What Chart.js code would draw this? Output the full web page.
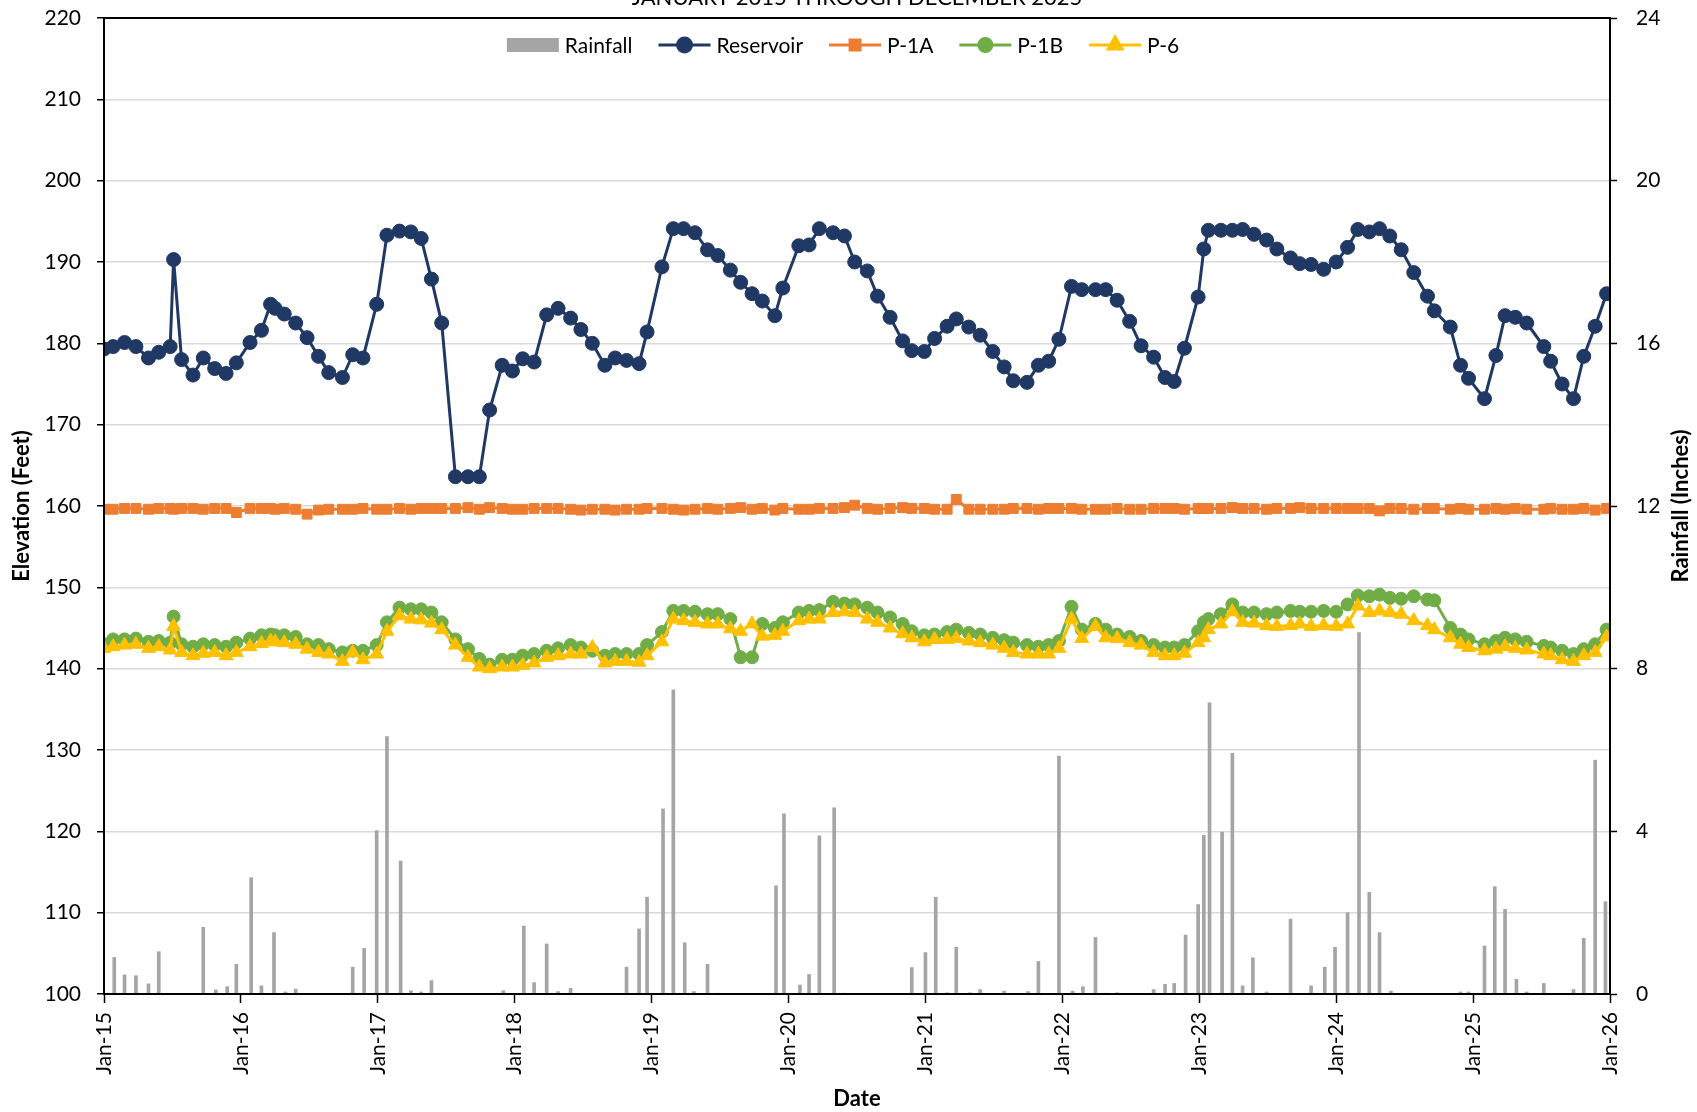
<!DOCTYPE html>
<html>
<head>
<meta charset="utf-8">
<script src="https://cdn.jsdelivr.net/npm/chart.js@4.4.1/dist/chart.umd.min.js"></script>
<style>
  html, body { margin: 0; padding: 0; background: #fff; }
</style>
</head>
<body>
<canvas id="grafico" width="1697" height="1112"></canvas>
<script>
// fecha de muestreo en meses desde enero 2015
const sampleMonths = [
  0.0, 0.8, 1.8, 2.8, 3.9, 4.8, 5.8, 6.1, 6.8, 7.8,
  8.7, 9.7, 10.7, 11.6, 12.8, 13.8, 14.6, 15.0, 15.8, 16.8,
  17.8, 18.8, 19.7, 20.9, 21.8, 22.7, 23.9, 24.8, 25.9, 26.9,
  27.8, 28.7, 29.6, 30.8, 31.9, 32.9, 33.8, 34.9, 35.8, 36.7,
  37.7, 38.8, 39.8, 40.9, 41.8, 42.8, 43.9, 44.8, 45.8, 46.9,
  47.6, 48.9, 49.9, 50.8, 51.8, 52.9, 53.8, 54.9, 55.8, 56.8,
  57.7, 58.8, 59.5, 60.9, 61.8, 62.7, 63.9, 64.9, 65.8, 66.9,
  67.8, 68.9, 70.0, 70.8, 71.9, 72.8, 73.9, 74.7, 75.8, 76.8,
  77.9, 78.9, 79.7, 80.9, 81.9, 82.8, 83.7, 84.8, 85.7, 86.9,
  87.8, 88.8, 89.9, 90.9, 92.0, 93.0, 93.8, 94.7, 95.9, 96.4,
  96.8, 97.9, 98.9, 99.8, 100.8, 101.9, 102.8, 104.0, 104.8, 105.8,
  106.9, 108.0, 109.0, 109.9, 110.9, 111.8, 112.7, 113.7, 114.8, 116.0,
  116.6, 118.0, 118.9, 119.6, 121.0, 122.0, 122.8, 123.7, 124.7, 126.2,
  126.8, 127.8, 128.8, 129.7, 130.7, 131.7
];

const reservoir = [
  179.3, 179.6, 180.1, 179.6, 178.2, 178.9, 179.6, 190.3, 178.0, 176.1,
  178.2, 176.9, 176.3, 177.6, 180.1, 181.6, 184.8, 184.3, 183.6, 182.5,
  180.7, 178.4, 176.4, 175.8, 178.6, 178.2, 184.8, 193.3, 193.8, 193.7,
  192.9, 187.9, 182.5, 163.6, 163.6, 163.6, 171.8, 177.3, 176.6, 178.1,
  177.7, 183.5, 184.3, 183.1, 181.7, 180.0, 177.3, 178.2, 177.9, 177.5,
  181.4, 189.4, 194.1, 194.1, 193.6, 191.5, 190.8, 189.0, 187.5, 186.1,
  185.2, 183.4, 186.8, 192.0, 192.1, 194.1, 193.6, 193.2, 190.0, 188.9,
  185.8, 183.2, 180.3, 179.1, 179.0, 180.6, 182.1, 183.0, 182.0, 181.0,
  179.0, 177.1, 175.4, 175.2, 177.3, 177.8, 180.5, 187.0, 186.6, 186.6,
  186.6, 185.3, 182.7, 179.7, 178.3, 175.8, 175.3, 179.4, 185.7, 191.6,
  193.9, 193.9, 193.9, 194.0, 193.4, 192.7, 191.6, 190.5, 189.8, 189.7,
  189.1, 190.0, 191.8, 194.0, 193.7, 194.1, 193.2, 191.5, 188.7, 185.8,
  184.0, 182.0, 177.3, 175.7, 173.2, 178.5, 183.4, 183.2, 182.5, 179.6,
  177.8, 175.0, 173.2, 178.4, 182.1, 186.1
];

const p1a = [
  159.6, 159.6, 159.7, 159.7, 159.6, 159.7, 159.7, 159.6, 159.7, 159.7,
  159.6, 159.7, 159.7, 159.2, 159.7, 159.7, 159.7, 159.6, 159.7, 159.6,
  159.0, 159.5, 159.6, 159.6, 159.6, 159.7, 159.6, 159.6, 159.7, 159.6,
  159.7, 159.7, 159.7, 159.7, 159.8, 159.6, 159.8, 159.7, 159.6, 159.6,
  159.7, 159.7, 159.7, 159.6, 159.5, 159.6, 159.6, 159.5, 159.6, 159.6,
  159.7, 159.7, 159.6, 159.5, 159.6, 159.7, 159.6, 159.7, 159.8, 159.6,
  159.7, 159.5, 159.7, 159.6, 159.6, 159.7, 159.7, 159.8, 160.1, 159.7,
  159.6, 159.7, 159.8, 159.7, 159.7, 159.6, 159.6, 160.8, 159.6, 159.6,
  159.6, 159.6, 159.7, 159.7, 159.6, 159.7, 159.7, 159.7, 159.6, 159.6,
  159.6, 159.7, 159.6, 159.6, 159.7, 159.7, 159.7, 159.6, 159.7, 159.7,
  159.7, 159.7, 159.8, 159.7, 159.7, 159.6, 159.7, 159.7, 159.8, 159.7,
  159.7, 159.7, 159.7, 159.7, 159.7, 159.4, 159.7, 159.7, 159.6, 159.7,
  159.7, 159.6, 159.7, 159.6, 159.6, 159.7, 159.6, 159.7, 159.6, 159.6,
  159.7, 159.6, 159.6, 159.7, 159.5, 159.7
];

const p1b = [
  143.0, 143.6, 143.6, 143.7, 143.3, 143.4, 143.2, 146.4, 143.0, 142.7,
  143.0, 142.9, 142.7, 143.2, 143.7, 144.1, 144.2, 144.1, 144.1, 143.9,
  143.0, 142.9, 142.4, 142.0, 142.2, 142.2, 142.9, 145.7, 147.5, 147.3,
  147.3, 146.9, 145.7, 143.6, 142.4, 141.2, 140.5, 141.1, 141.1, 141.6,
  141.8, 142.2, 142.5, 142.9, 142.6, 142.2, 141.6, 141.8, 141.8, 141.8,
  142.9, 144.5, 147.1, 147.1, 147.0, 146.7, 146.7, 146.1, 141.4, 141.4,
  145.5, 145.0, 145.7, 146.9, 147.1, 147.2, 148.2, 148.0, 147.9, 147.5,
  146.9, 146.3, 145.5, 144.6, 144.1, 144.2, 144.5, 144.8, 144.4, 144.2,
  143.8, 143.5, 143.2, 142.9, 142.7, 142.9, 143.4, 147.6, 144.8, 145.5,
  144.8, 144.2, 143.9, 143.4, 142.9, 142.6, 142.6, 142.9, 144.6, 145.7,
  146.1, 146.7, 147.9, 146.9, 146.9, 146.7, 146.9, 147.1, 147.0, 147.0,
  147.1, 147.0, 147.9, 149.0, 148.9, 149.1, 148.7, 148.6, 148.9, 148.5,
  148.4, 145.0, 144.2, 143.6, 143.0, 143.4, 143.8, 143.6, 143.3, 142.8,
  142.6, 142.2, 141.8, 142.4, 143.0, 144.8
];

const p6 = [
  142.5, 142.7, 142.9, 143.0, 142.5, 142.7, 142.3, 145.2, 142.0, 141.6,
  141.9, 142.0, 141.6, 142.0, 142.7, 143.1, 143.4, 143.3, 143.2, 143.0,
  142.4, 142.0, 141.8, 140.9, 142.0, 141.1, 141.8, 144.6, 146.5, 146.1,
  146.0, 145.6, 144.8, 142.9, 141.4, 140.2, 140.0, 140.2, 140.2, 140.4,
  140.7, 141.4, 141.6, 141.8, 141.8, 142.6, 140.7, 140.9, 140.9, 140.8,
  141.6, 143.3, 146.1, 145.9, 145.7, 145.5, 145.5, 144.9, 144.6, 145.5,
  144.0, 144.1, 144.6, 145.9, 146.1, 146.1, 146.9, 147.0, 146.9, 146.1,
  145.7, 145.0, 144.3, 143.8, 143.3, 143.6, 143.6, 143.7, 143.4, 143.2,
  142.9, 142.5, 142.0, 141.8, 141.8, 141.8, 142.5, 146.1, 143.7, 145.2,
  143.8, 143.7, 143.2, 142.9, 142.0, 141.6, 141.6, 141.9, 143.2, 143.8,
  144.8, 145.5, 147.0, 145.7, 145.6, 145.3, 145.2, 145.3, 145.5, 145.2,
  145.3, 145.2, 145.5, 147.7, 146.9, 147.1, 146.9, 146.7, 145.9, 145.3,
  144.8, 143.8, 143.0, 142.6, 142.2, 142.4, 142.7, 142.5, 142.3, 141.8,
  141.6, 141.1, 140.9, 141.6, 142.0, 143.9
];

// lluvia (pulgadas) en meses desde enero 2015
const rainMonths = [
  0.9, 1.8, 2.8, 3.9, 4.8, 8.7, 9.8, 10.8, 11.6, 12.9,
  13.8, 14.9, 15.9, 16.8, 21.8, 22.8, 23.9, 24.8, 26.0, 26.9,
  27.8, 28.7, 35.0, 36.8, 37.7, 38.8, 39.8, 40.9, 45.8, 46.9,
  47.6, 49.0, 49.9, 50.9, 51.7, 52.9, 53.8, 58.9, 59.6, 61.0,
  61.8, 62.7, 64.0, 64.9, 70.8, 72.0, 72.9, 73.9, 74.7, 75.9,
  76.8, 78.9, 81.0, 81.9, 83.7, 84.9, 85.8, 86.9, 87.9, 88.8,
  92.0, 93.0, 93.8, 94.8, 95.9, 96.4, 96.9, 98.0, 98.9, 99.8,
  100.7, 101.9, 104.0, 105.8, 107.0, 107.9, 109.0, 110.0, 110.9, 111.8,
  112.8, 118.9, 119.6, 121.0, 121.9, 122.8, 123.8, 124.7, 126.2, 128.8,
  129.7, 130.7, 131.6
];
const rainfall = [
  0.90, 0.47, 0.45, 0.25, 1.04, 1.64, 0.10, 0.18, 0.73, 2.86,
  0.20, 1.51, 0.05, 0.12, 0.66, 1.12, 4.02, 6.33, 3.27, 0.08,
  0.05, 0.33, 0.08, 1.67, 0.28, 1.23, 0.06, 0.14, 0.66, 1.60,
  2.38, 4.55, 7.48, 1.26, 0.06, 0.73, 0.02, 2.66, 4.43, 0.22,
  0.48, 3.89, 4.58, 0.02, 0.65, 1.02, 2.38, 0.03, 1.15, 0.03,
  0.11, 0.07, 0.06, 0.80, 5.85, 0.07, 0.18, 1.39, 0.02, 0.03,
  0.11, 0.24, 0.26, 1.45, 2.20, 3.90, 7.16, 3.98, 5.92, 0.20,
  0.89, 0.05, 1.84, 0.20, 0.66, 1.15, 2.00, 8.89, 2.50, 1.51,
  0.07, 0.05, 0.05, 1.18, 2.64, 2.08, 0.36, 0.05, 0.26, 0.11,
  1.37, 5.75, 2.27
];

const xTickLabels = ['Jan-15', 'Jan-16', 'Jan-17', 'Jan-18', 'Jan-19', 'Jan-20',
  'Jan-21', 'Jan-22', 'Jan-23', 'Jan-24', 'Jan-25', 'Jan-26'];

const FUENTE = 'Lato, "Open Sans", sans-serif';
const toPoints = (xs, ys) => xs.map((x, i) => ({ x: x, y: ys[i] }));

// Titulo (cortado arriba), leyenda dentro del area y titulo del eje derecho
const extras = {
  id: 'extras',
  afterDraw(chart) {
    const ctx = chart.ctx;
    const area = chart.chartArea;
    ctx.save();

    // borde del area de trazado
    ctx.strokeStyle = '#000';
    ctx.lineWidth = 2;
    ctx.strokeRect(area.left, area.top, area.right - area.left, area.bottom - area.top);

    // titulo
    ctx.fillStyle = '#000';
    ctx.font = '22px ' + FUENTE;
    ctx.textAlign = 'center';
    ctx.textBaseline = 'alphabetic';
    ctx.fillText('JANUARY 2015 THROUGH DECEMBER 2025', (area.left + area.right) / 2, 5);

    // titulo eje derecho
    ctx.font = 'bold 22px ' + FUENTE;
    ctx.translate(1681, (area.top + area.bottom) / 2);
    ctx.rotate(-Math.PI / 2);
    ctx.textBaseline = 'middle';
    ctx.fillText('Rainfall (Inches)', 0, 0);
    ctx.setTransform(1, 0, 0, 1, 0, 0);

    // leyenda
    ctx.font = '21px ' + FUENTE;
    const symW = 52, gapTxt = 6, gapItem = 26, cy = 45;
    const items = chart.data.datasets;
    let total = 0;
    items.forEach((ds, i) => {
      total += symW + gapTxt + ctx.measureText(ds.label).width + (i < items.length - 1 ? gapItem : 0);
    });
    let x = 843 - total / 2;
    ctx.textAlign = 'left';
    ctx.textBaseline = 'middle';
    items.forEach(ds => {
      if (ds.type === 'bar') {
        ctx.fillStyle = ds.backgroundColor;
        ctx.fillRect(x, cy - 7, symW, 14);
      } else {
        ctx.strokeStyle = ds.borderColor;
        ctx.lineWidth = ds.borderWidth;
        ctx.beginPath();
        ctx.moveTo(x, cy);
        ctx.lineTo(x + symW, cy);
        ctx.stroke();
        ctx.fillStyle = ds.backgroundColor;
        Chart.helpers.drawPoint(ctx, {
          pointStyle: ds.pointStyle, radius: ds.pointRadius, borderWidth: 1
        }, x + symW / 2, cy);
      }
      x += symW + gapTxt;
      ctx.fillStyle = '#000';
      ctx.fillText(ds.label, x, cy + 1);
      x += ctx.measureText(ds.label).width + gapItem;
    });
    ctx.restore();
  }
};

const serie = (label, values, color, style, radius, order) => ({
  type: 'line',
  label: label,
  data: toPoints(sampleMonths, values),
  yAxisID: 'y',
  borderColor: color,
  backgroundColor: color,
  borderWidth: 3,
  pointStyle: style,
  pointRadius: radius,
  pointBorderWidth: 1,
  pointBorderColor: color,
  pointBackgroundColor: color,
  tension: 0,
  order: order
});

// ancho fijo del eje vertical, sin relleno extra arriba/abajo
const fijarEjeY = ancho => s => {
  s.width = ancho;
  s.paddingTop = 0;
  s.paddingBottom = 0;
};

new Chart(document.getElementById('grafico').getContext('2d'), {
  data: {
    datasets: [
      {
        type: 'bar',
        label: 'Rainfall',
        data: toPoints(rainMonths, rainfall),
        yAxisID: 'y2',
        backgroundColor: '#A5A5A5',
        barThickness: 3,
        order: 4
      },
      serie('Reservoir', reservoir, '#203864', 'circle', 7, 3),
      serie('P-1A', p1a, '#ED7D31', 'rect', 7, 2),
      serie('P-1B', p1b, '#70AD47', 'circle', 6.5, 1),
      serie('P-6', p6, '#FFC000', 'triangle', 8, 0)
    ]
  },
  options: {
    responsive: false,
    animation: false,
    layout: { padding: { top: 18, left: 0, right: 0, bottom: 0 } },
    plugins: {
      legend: { display: false },
      tooltip: { enabled: false }
    },
    scales: {
      x: {
        type: 'linear',
        min: 0,
        max: 132,
        offset: false,
        afterFit: s => { s.height = 118; s.paddingLeft = 0; s.paddingRight = 0; },
        border: { color: '#000', width: 2 },
        grid: { drawOnChartArea: false, offset: false, tickColor: '#000', tickLength: 9, tickWidth: 1.5 },
        ticks: {
          stepSize: 12,
          autoSkip: false,
          maxRotation: 90,
          minRotation: 90,
          padding: 9,
          color: '#000',
          font: { family: FUENTE, size: 21 },
          callback: v => xTickLabels[v / 12]
        },
        title: {
          display: true,
          text: 'Date',
          color: '#000',
          font: { family: FUENTE, size: 22, weight: 'bold' },
          padding: { top: 0, bottom: 0 }
        }
      },
      y: {
        type: 'linear',
        position: 'left',
        min: 100,
        max: 220,
        afterFit: fijarEjeY(104),
        border: { color: '#000', width: 2 },
        grid: { color: '#D9D9D9', lineWidth: 1.5, tickColor: '#000', tickLength: 7, tickWidth: 1.5 },
        ticks: {
          stepSize: 10,
          padding: 16,
          color: '#000',
          font: { family: FUENTE, size: 21 }
        },
        title: {
          display: true,
          text: 'Elevation (Feet)',
          color: '#000',
          font: { family: FUENTE, size: 22, weight: 'bold' },
          padding: { top: 9, bottom: 0 }
        }
      },
      y2: {
        type: 'linear',
        position: 'right',
        min: 0,
        max: 24,
        afterFit: fijarEjeY(87),
        border: { color: '#000', width: 2 },
        grid: { drawOnChartArea: false, tickColor: '#000', tickLength: 7, tickWidth: 1.5 },
        ticks: {
          stepSize: 4,
          padding: 19,
          color: '#000',
          font: { family: FUENTE, size: 21 }
        }
      }
    }
  },
  plugins: [extras]
});
</script>
</body>
</html>
